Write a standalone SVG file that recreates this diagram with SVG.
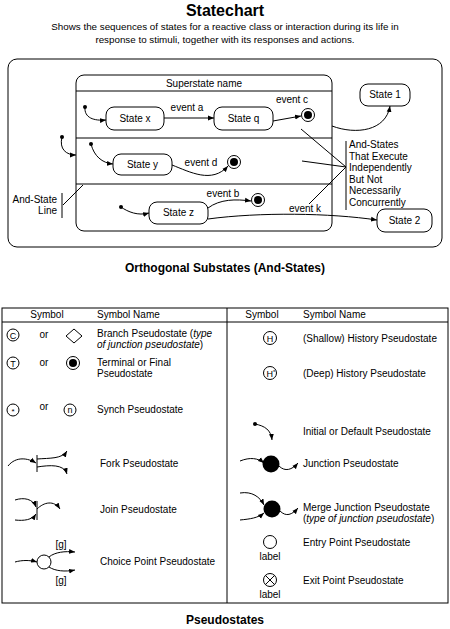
<svg xmlns="http://www.w3.org/2000/svg" width="450" height="629" viewBox="0 0 450 629">
<style>
text{font-family:"Liberation Sans",Arial,sans-serif;font-size:10px;fill:#000}
.t{font-size:16px;font-weight:bold}
.h{font-size:12px;font-weight:bold}
.sub{font-size:9.8px}
.m{text-anchor:middle}
.e{text-anchor:end}
.box{fill:#fff;stroke:#000;stroke-width:1}
.ln{fill:none;stroke:#000;stroke-width:1}
.ar{fill:none;stroke:#000;stroke-width:1;marker-end:url(#ah)}
.dot{fill:#000}
</style>
<defs>
<marker id="ah" viewBox="0 0 10 10" refX="10" refY="5" markerWidth="6" markerHeight="6" orient="auto" markerUnits="userSpaceOnUse"><path d="M0,1 L10,5 L0,9 z" fill="#000"/></marker>
</defs>
<rect width="450" height="629" fill="#fff"/>
<text class="t m" x="225" y="16">Statechart</text>
<text class="sub m" x="225" y="30">Shows the sequences of states for a reactive class or interaction during its life in</text>
<text class="sub m" x="225" y="43">response to stimuli, together with its responses and actions.</text>

<g id="statechart-frame"><rect class="box" x="8" y="59" width="434" height="188" rx="9"/></g>
<g id="superstate">
<rect class="box" x="76" y="75" width="256" height="156" rx="8"/>
<line class="ln" x1="76" y1="91" x2="332" y2="91"/>
<line class="ln" x1="76" y1="138" x2="332" y2="138"/>
<line class="ln" x1="76" y1="184" x2="332" y2="184"/>
<text class="m" x="204" y="87">Superstate name</text>
</g>
<g id="state-x"><rect class="box" x="106" y="107" width="58" height="23" rx="8"/><text class="m" x="135" y="122">State x</text></g>
<g id="state-q"><rect class="box" x="214" y="107" width="59" height="23" rx="8"/><text class="m" x="243.5" y="122">State q</text></g>
<g id="final-c"><circle class="box" cx="308" cy="115" r="6.5"/><circle class="dot" cx="308" cy="115" r="4"/></g>
<g id="state-y"><rect class="box" x="113" y="154" width="59" height="21" rx="8"/><text class="m" x="142.5" y="168">State y</text></g>
<g id="final-d"><circle class="box" cx="234" cy="162" r="6.5"/><circle class="dot" cx="234" cy="162" r="4"/></g>
<g id="state-z"><rect class="box" x="149" y="202" width="59" height="22" rx="8"/><text class="m" x="178.5" y="216">State z</text></g>
<g id="final-b"><circle class="box" cx="258" cy="200" r="6.5"/><circle class="dot" cx="258" cy="200" r="4"/></g>
<g id="state-1"><rect class="box" x="360" y="84" width="50" height="22" rx="8"/><text class="m" x="385" y="98">State 1</text></g>
<g id="state-2"><rect class="box" x="377" y="209" width="55" height="23" rx="8"/><text class="m" x="404.5" y="224">State 2</text></g>
<g id="initials">
<circle class="dot" cx="62" cy="137" r="2"/>
<circle class="dot" cx="85" cy="107" r="2"/>
<circle class="dot" cx="91" cy="144" r="2"/>
<circle class="dot" cx="121" cy="207" r="2"/>
</g>
<g id="and-states-note">
<line class="ln" x1="346" y1="141" x2="346" y2="210"/>
<text x="349" y="148">And-States</text>
<text x="349" y="159.5">That Execute</text>
<text x="349" y="171">Independently</text>
<text x="349" y="182.5">But Not</text>
<text x="349" y="194">Necessarily</text>
<text x="349" y="205.5">Concurrently</text>
</g>
<g id="and-state-line-note">
<line class="ln" x1="62" y1="193" x2="62" y2="218"/>
<text class="e" x="57" y="203">And-State</text>
<text class="e" x="57" y="214">Line</text>
</g>
<g id="connectors">
<path class="ar" d="M62,137 C59,149 66,155 76,155"/>
<path class="ar" d="M85,107 C84,118 94,121 106,120"/>
<path class="ar" d="M91,144 C94,156 102,163 113,164"/>
<path class="ar" d="M121,207 C128,212 138,216 149,213"/>
<path class="ar" d="M164,118 L214,118"/>
<path class="ar" d="M273,121 L301,116"/>
<path class="ar" d="M172,165 C190,172 212,184 228,166"/>
<path class="ar" d="M208,208 C220,199 236,199 251,201"/>
<path class="ar" d="M208,219 C260,212 330,213 377,220"/>
<path class="ar" d="M332,126 C356,135 386,131 390,106"/>
<path class="ln" d="M301,129 L346,167 M302,161 L346,167 M309,204 L346,167"/>
<path class="ln" d="M63,205 L83,185"/>
<text class="m" x="187" y="111">event a</text>
<text class="m" x="292" y="103">event c</text>
<text class="m" x="201" y="166">event d</text>
<text class="m" x="223" y="197">event  b</text>
<text class="m" x="305" y="212">event  k</text>
</g>
<text class="h m" x="225" y="272">Orthogonal Substates (And-States)</text>

<g id="table">
<rect class="box" x="2" y="308" width="446" height="295"/>
<line class="ln" x1="2" y1="322" x2="448" y2="322"/>
<line class="ln" x1="227" y1="308" x2="227" y2="603"/>
<text class="m" x="47" y="318">Symbol</text>
<text x="97" y="318">Symbol Name</text>
<text class="m" x="262" y="318">Symbol</text>
<text x="303" y="318">Symbol Name</text>
</g>
<g id="branch">
<circle class="box" cx="13" cy="335" r="6"/><text class="m" x="13" y="338.5" style="font-size:9px">C</text>
<text class="m" x="44" y="338">or</text>
<path class="box" d="M74,329 L82,336 L74,343 L66,336 Z"/>
<text x="97" y="337">Branch Pseudostate (<tspan font-style="italic">type</tspan></text>
<text x="97" y="347.5" font-style="italic">of junction pseudostate<tspan font-style="normal">)</tspan></text>
</g>
<g id="terminal">
<circle class="box" cx="13" cy="363" r="6"/><text class="m" x="13" y="366.5" style="font-size:9px">T</text>
<text class="m" x="44" y="366">or</text>
<circle class="box" cx="73" cy="363" r="6.5"/><circle class="dot" cx="73" cy="363" r="4"/>
<text x="97" y="366">Terminal or Final</text>
<text x="97" y="377">Pseudostate</text>
</g>
<g id="synch">
<circle class="box" cx="13" cy="410" r="6"/><text class="m" x="13" y="414" style="font-size:8px">*</text>
<text class="m" x="44" y="410">or</text>
<circle class="box" cx="70" cy="410" r="6"/><text class="m" x="70" y="413" style="font-size:9px">n</text>
<text x="97" y="413">Synch Pseudostate</text>
</g>
<g id="fork">
<path class="ar" d="M8,466 C16,456 28,458 36,463"/>
<line class="ln" x1="37" y1="455" x2="37" y2="472"/>
<path class="ar" d="M37,459 C50,458 62,459 67,451"/>
<path class="ar" d="M37,467 C50,465 64,464 67,474"/>
<text x="100" y="467">Fork Pseudostate</text>
</g>
<g id="join">
<path class="ar" d="M15,500 C24,497 33,499 36,507"/>
<path class="ar" d="M15,520 C24,521 32,520 36,514"/>
<line class="ln" x1="37" y1="501" x2="37" y2="520"/>
<path class="ar" d="M37,509 C44,502 54,500 60,509"/>
<text x="100" y="513">Join Pseudostate</text>
</g>
<g id="choice">
<path class="ar" d="M15,562 C22,560 30,560 37,562"/>
<circle class="box" cx="44" cy="562" r="7"/>
<path class="ar" d="M49,557 C55,552 65,551 75,552"/>
<path class="ar" d="M49,567 C55,571 65,572 75,570"/>
<text class="m" x="61" y="548">[g]</text>
<text class="m" x="61" y="584">[g]</text>
<text x="100" y="565">Choice Point Pseudostate</text>
</g>
<g id="shallow-history">
<circle class="box" cx="270" cy="338" r="6.5"/><text class="m" x="270" y="341.5" style="font-size:9px">H</text>
<text x="303" y="342">(Shallow) History Pseudostate</text>
</g>
<g id="deep-history">
<circle class="box" cx="270" cy="373" r="6.5"/><text x="266.5" y="376.5" style="font-size:9px">H<tspan dy="-3" style="font-size:6px">*</tspan></text>
<text x="303" y="377">(Deep) History Pseudostate</text>
</g>
<g id="initial">
<circle class="dot" cx="255" cy="424" r="2"/>
<path class="ar" d="M255,424 C265,426 271,430 272,440"/>
<text x="303" y="435">Initial or Default Pseudostate</text>
</g>
<g id="junction">
<path class="ar" d="M240,461 C250,457 258,458 264,463"/>
<circle class="dot" cx="271" cy="464" r="8.5"/>
<path class="ar" d="M279,466 C285,472 292,470 298,463"/>
<text x="303" y="467">Junction Pseudostate</text>
</g>
<g id="merge-junction">
<path class="ar" d="M240,493 C252,491 260,497 264,505"/>
<path class="ar" d="M240,520 C250,519 258,518 264,513"/>
<circle class="dot" cx="272" cy="509" r="8.5"/>
<path class="ar" d="M280,511 C286,517 292,515 298,508"/>
<text x="303" y="511">Merge Junction Pseudostate</text>
<text x="303" y="522">(<tspan font-style="italic">type of junction pseudostate</tspan>)</text>
</g>
<g id="entry-point">
<circle class="box" cx="270" cy="542" r="6.5"/>
<text class="m" x="270" y="560">label</text>
<text x="303" y="546">Entry Point Pseudostate</text>
</g>
<g id="exit-point">
<circle class="box" cx="270" cy="580" r="6.5"/>
<path class="ln" d="M265.4,575.4 L274.6,584.6 M274.6,575.4 L265.4,584.6"/>
<text class="m" x="270" y="598">label</text>
<text x="303" y="584">Exit Point Pseudostate</text>
</g>
<text class="h m" x="225" y="624">Pseudostates</text>
</svg>
